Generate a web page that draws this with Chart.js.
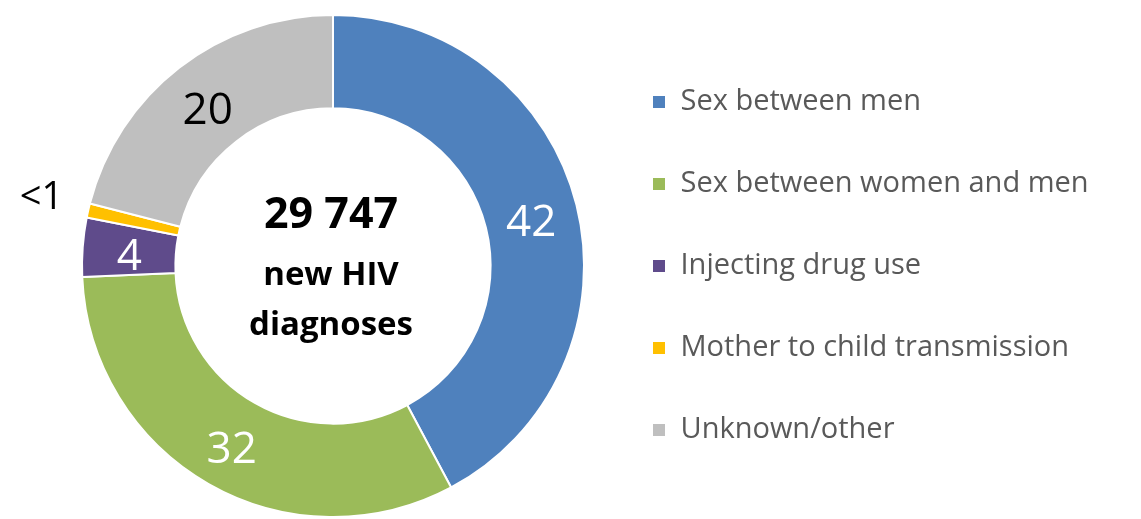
<!DOCTYPE html>
<html>
<head>
<meta charset="utf-8">
<script src="https://cdn.jsdelivr.net/npm/chart.js@4.4.1/dist/chart.umd.min.js"></script>
<style>
  body { margin: 0; background: #fff; }
  #wrap { width: 1141px; height: 519px; position: relative; }
</style>
</head>
<body>
<div id="wrap"><canvas id="myChart"></canvas></div>
<script>
var categories = [
  "Sex between men",
  "Sex between women and men",
  "Injecting drug use",
  "Mother to child transmission",
  "Unknown/other"
];
var shares = [42.2, 32.1, 3.8, 0.9, 21.0];
// labels printed on the ring
var shareLabels = ["42", "32", "4", "<1", "20"];
var centerLines = ["29 747", "new HIV", "diagnoses"];

var colors = ["#4f81bd", "#9bbb59", "#5f4b8b", "#ffc000", "#bfbfbf"];
var labelColors = ["#ffffff", "#ffffff", "#ffffff", "#000000", "#000000"];

var FONT = "'Open Sans', 'DejaVu Sans', sans-serif";
var legendFontSize = 29;
var legendBox = 14;
var legendPad = 53;

// work out paddings so the ring sits at x=333 and legend text starts near x=680
var mctx = document.createElement("canvas").getContext("2d");
mctx.font = legendFontSize + "px " + FONT;
var widest = 0;
categories.forEach(function(c) {
  widest = Math.max(widest, mctx.measureText(c).width);
});
var legendLeft = 652 - legendPad;
var padLeft = 2 * 333 - legendLeft;
var itemWidth = legendBox + legendFontSize / 2 + widest;
var padRight = Math.max(0, 1141 - legendLeft - (legendPad + itemWidth + 10));

// numbers on the ring
var ringLabels = {
  id: "ringLabels",
  afterDatasetsDraw: function(chart) {
    var ctx = chart.ctx;
    var arcs = chart.getDatasetMeta(0).data;
    ctx.save();
    ctx.textAlign = "center";
    ctx.textBaseline = "middle";
    arcs.forEach(function(arc, i) {
      var p = arc.getProps(["x", "y", "startAngle", "endAngle", "innerRadius", "outerRadius"], true);
      var mid = (p.startAngle + p.endAngle) / 2;
      var r = (p.innerRadius + p.outerRadius) / 2;
      var size = 44;
      var dy = 7;
      if (shares[i] < 2) {
        r = p.outerRadius + 48;
        size = 38;
        dy = -2;
      }
      ctx.font = size + "px " + FONT;
      ctx.fillStyle = labelColors[i];
      ctx.fillText(shareLabels[i], p.x + Math.cos(mid) * r, p.y + Math.sin(mid) * r + dy);
    });
    ctx.restore();
  }
};

// total in the hole
var centerText = {
  id: "centerText",
  afterDatasetsDraw: function(chart) {
    var ctx = chart.ctx;
    var arc = chart.getDatasetMeta(0).data[0];
    var cx = arc.x, cy = arc.y;
    ctx.save();
    ctx.textAlign = "center";
    ctx.textBaseline = "alphabetic";
    ctx.fillStyle = "#000000";
    ctx.font = "bold 43px " + FONT;
    ctx.fillText(centerLines[0], cx - 2, cy - 38);
    ctx.font = "bold 33px " + FONT;
    ctx.fillText(centerLines[1], cx - 2, cy + 19);
    ctx.fillText(centerLines[2], cx - 2, cy + 69);
    ctx.restore();
  }
};

var ctx = document.getElementById("myChart").getContext("2d");
new Chart(ctx, {
  type: "doughnut",
  data: {
    labels: categories,
    datasets: [
      {
        data: shares,
        backgroundColor: colors,
        borderColor: "#ffffff",
        borderWidth: 2
      }
    ]
  },
  options: {
    responsive: true,
    maintainAspectRatio: false,
    animation: false,
    radius: 251,
    cutout: 157,
    layout: {
      padding: { left: padLeft, top: 15, bottom: 2, right: padRight }
    },
    plugins: {
      tooltip: { enabled: false },
      legend: {
        position: "right",
        align: "center",
        labels: {
          boxWidth: legendBox,
          boxHeight: legendBox,
          padding: legendPad,
          color: "#595959",
          font: { family: FONT, size: legendFontSize }
        }
      }
    }
  },
  plugins: [ringLabels, centerText]
});
</script>
</body>
</html>
